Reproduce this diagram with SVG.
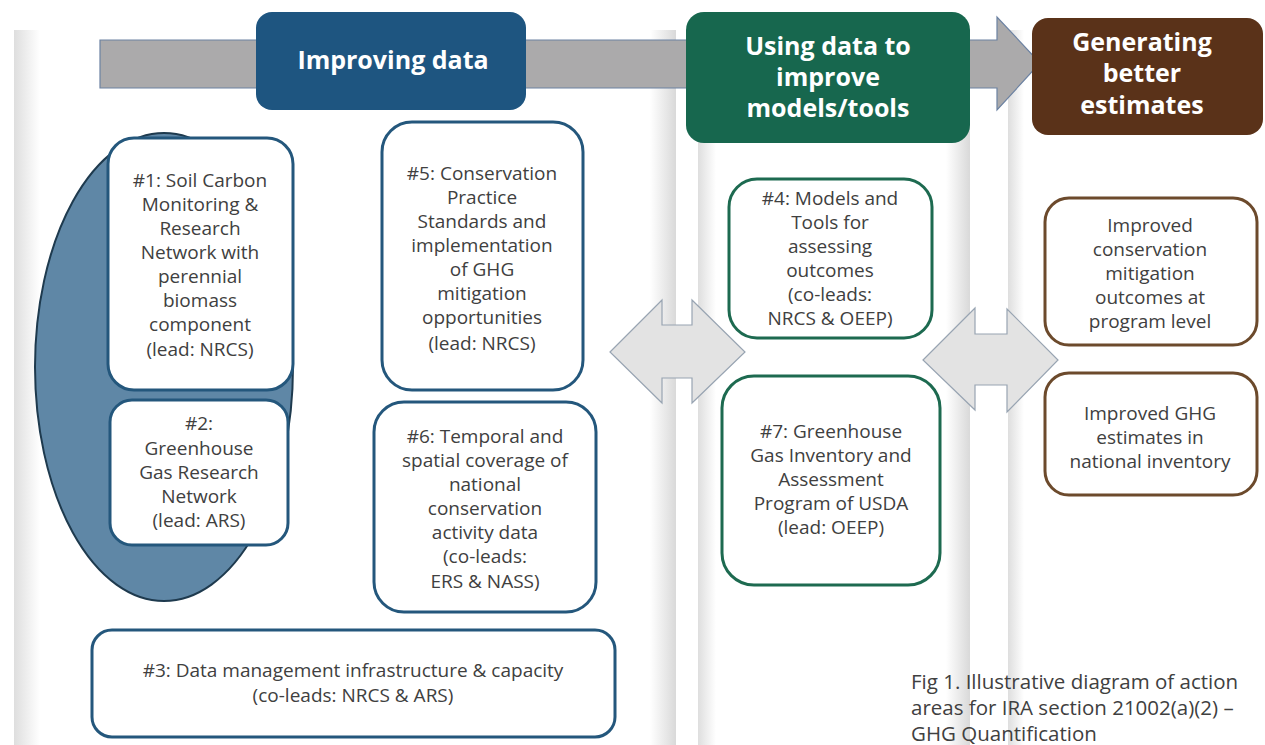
<svg xmlns="http://www.w3.org/2000/svg" width="1265" height="745" viewBox="0 0 1265 745">
<defs>
<linearGradient id="gL" x1="0" x2="1" y1="0" y2="0"><stop offset="0" stop-color="#dedede"/><stop offset="1" stop-color="#ffffff"/></linearGradient>
<linearGradient id="gR" x1="0" x2="1" y1="0" y2="0"><stop offset="0" stop-color="#ffffff"/><stop offset="1" stop-color="#d9d9d9"/></linearGradient>
<style>
.t{font-family:"Open Sans","Noto Sans",sans-serif;font-size:19px;fill:#404040;text-anchor:middle}
.h{font-family:"Open Sans","Noto Sans",sans-serif;font-size:25px;font-weight:bold;fill:#ffffff;text-anchor:middle}
.bb{fill:#ffffff;stroke:#24577c;stroke-width:3}
.gb{fill:#ffffff;stroke:#1d6a50;stroke-width:3}
.br{fill:#ffffff;stroke:#6c4a2c;stroke-width:3}
.dbl{fill:#e3e3e3;stroke:#98a4b2;stroke-width:1.2}
.cap{font-family:"Open Sans","Noto Sans",sans-serif;font-size:20.5px;fill:#404040}
</style>
</defs>
<rect width="1265" height="745" fill="#ffffff"/>
<g id="background">
<rect x="14" y="30" width="26" height="715" fill="url(#gL)"/>
<rect x="650" y="30" width="26" height="715" fill="url(#gR)"/>
<rect x="698" y="30" width="18" height="715" fill="url(#gL)"/>
<rect x="946" y="30" width="24" height="715" fill="url(#gR)"/>
<rect x="1008" y="30" width="16" height="715" fill="url(#gL)"/>
</g>
<g id="main-arrow">
<polygon points="100,40 997,40 997,17 1040,63 997,110 997,88 100,88" fill="#abaaab" stroke="#6c82a2" stroke-width="1.2"/>
</g>
<g id="hdr-improving">
<rect x="256" y="12" width="270" height="98" rx="16" fill="#1e5580"/>
<text class="h" x="393" y="69">Improving data</text>
</g>
<g id="hdr-using">
<rect x="686" y="12" width="284" height="131" rx="18" fill="#17674e"/>
<text class="h" x="828" y="55">Using data to</text>
<text class="h" x="828" y="86">improve</text>
<text class="h" x="828" y="117">models/tools</text>
</g>
<g id="hdr-generating">
<rect x="1032" y="18" width="231" height="117" rx="16" fill="#5a3219"/>
<text class="h" x="1142" y="51">Generating</text>
<text class="h" x="1142" y="82">better</text>
<text class="h" x="1142" y="114">estimates</text>
</g>
<g id="ellipse-group">
<ellipse cx="164" cy="367" rx="129" ry="234" fill="#5f87a6" stroke="#1e3a4e" stroke-width="2"/>
</g>
<g id="node1">
<rect class="bb" x="108" y="138" width="185" height="252" rx="26"/>
<text class="t" x="200" y="187">#1: Soil Carbon</text>
<text class="t" x="200" y="211">Monitoring &amp;</text>
<text class="t" x="200" y="235">Research</text>
<text class="t" x="200" y="259">Network with</text>
<text class="t" x="200" y="283">perennial</text>
<text class="t" x="200" y="307">biomass</text>
<text class="t" x="200" y="331">component</text>
<text class="t" x="200" y="356">(lead: NRCS)</text>
</g>
<g id="node2">
<rect class="bb" x="110" y="400" width="178" height="145" rx="22"/>
<text class="t" x="199" y="430">#2:</text>
<text class="t" x="199" y="455">Greenhouse</text>
<text class="t" x="199" y="479">Gas Research</text>
<text class="t" x="199" y="503">Network</text>
<text class="t" x="199" y="527">(lead: ARS)</text>
</g>
<g id="node5">
<rect class="bb" x="382" y="122" width="201" height="268" rx="30"/>
<text class="t" x="482" y="180">#5: Conservation</text>
<text class="t" x="482" y="204">Practice</text>
<text class="t" x="482" y="228">Standards and</text>
<text class="t" x="482" y="252">implementation</text>
<text class="t" x="482" y="276">of GHG</text>
<text class="t" x="482" y="300">mitigation</text>
<text class="t" x="482" y="324">opportunities</text>
<text class="t" x="482" y="350">(lead: NRCS)</text>
</g>
<g id="node6">
<rect class="bb" x="374" y="402" width="222" height="210" rx="30"/>
<text class="t" x="485" y="443">#6: Temporal and</text>
<text class="t" x="485" y="467">spatial coverage of</text>
<text class="t" x="485" y="491">national</text>
<text class="t" x="485" y="515">conservation</text>
<text class="t" x="485" y="539">activity data</text>
<text class="t" x="485" y="563">(co-leads:</text>
<text class="t" x="485" y="588">ERS &amp; NASS)</text>
</g>
<g id="node3">
<rect class="bb" x="92" y="630" width="523" height="107" rx="20"/>
<text class="t" x="353" y="677">#3: Data management infrastructure &amp; capacity</text>
<text class="t" x="353" y="702">(co-leads: NRCS &amp; ARS)</text>
</g>
<g id="node4">
<rect class="gb" x="729" y="179" width="203" height="159" rx="28"/>
<text class="t" x="830" y="205">#4: Models and</text>
<text class="t" x="830" y="229">Tools for</text>
<text class="t" x="830" y="253">assessing</text>
<text class="t" x="830" y="277">outcomes</text>
<text class="t" x="830" y="301">(co-leads:</text>
<text class="t" x="830" y="325">NRCS &amp; OEEP)</text>
</g>
<g id="node7">
<rect class="gb" x="722" y="376" width="218" height="209" rx="32"/>
<text class="t" x="831" y="438">#7: Greenhouse</text>
<text class="t" x="831" y="462">Gas Inventory and</text>
<text class="t" x="831" y="486">Assessment</text>
<text class="t" x="831" y="510">Program of USDA</text>
<text class="t" x="831" y="534">(lead: OEEP)</text>
</g>
<g id="outcome1">
<rect class="br" x="1045" y="198" width="212" height="147" rx="24"/>
<text class="t" x="1150" y="232">Improved</text>
<text class="t" x="1150" y="256">conservation</text>
<text class="t" x="1150" y="280">mitigation</text>
<text class="t" x="1150" y="304">outcomes at</text>
<text class="t" x="1150" y="328">program level</text>
</g>
<g id="outcome2">
<rect class="br" x="1045" y="373" width="212" height="122" rx="24"/>
<text class="t" x="1150" y="420">Improved GHG</text>
<text class="t" x="1150" y="444">estimates in</text>
<text class="t" x="1150" y="468">national inventory</text>
</g>
<g id="connectors">
<polygon class="dbl" points="610,352 662,300 662,325 692,325 692,300 745,352 692,403 692,378 662,378 662,403"/>
<polygon class="dbl" points="923,360 975,308 975,334 1007,334 1007,309 1058,360 1007,412 1007,385 975,385 975,410"/>
</g>
<g id="caption">
<text class="cap" x="911" y="689">Fig 1. Illustrative diagram of action</text>
<text class="cap" x="911" y="715">areas for IRA section 21002(a)(2)  –</text>
<text class="cap" x="911" y="741">GHG Quantification</text>
</g>
</svg>
